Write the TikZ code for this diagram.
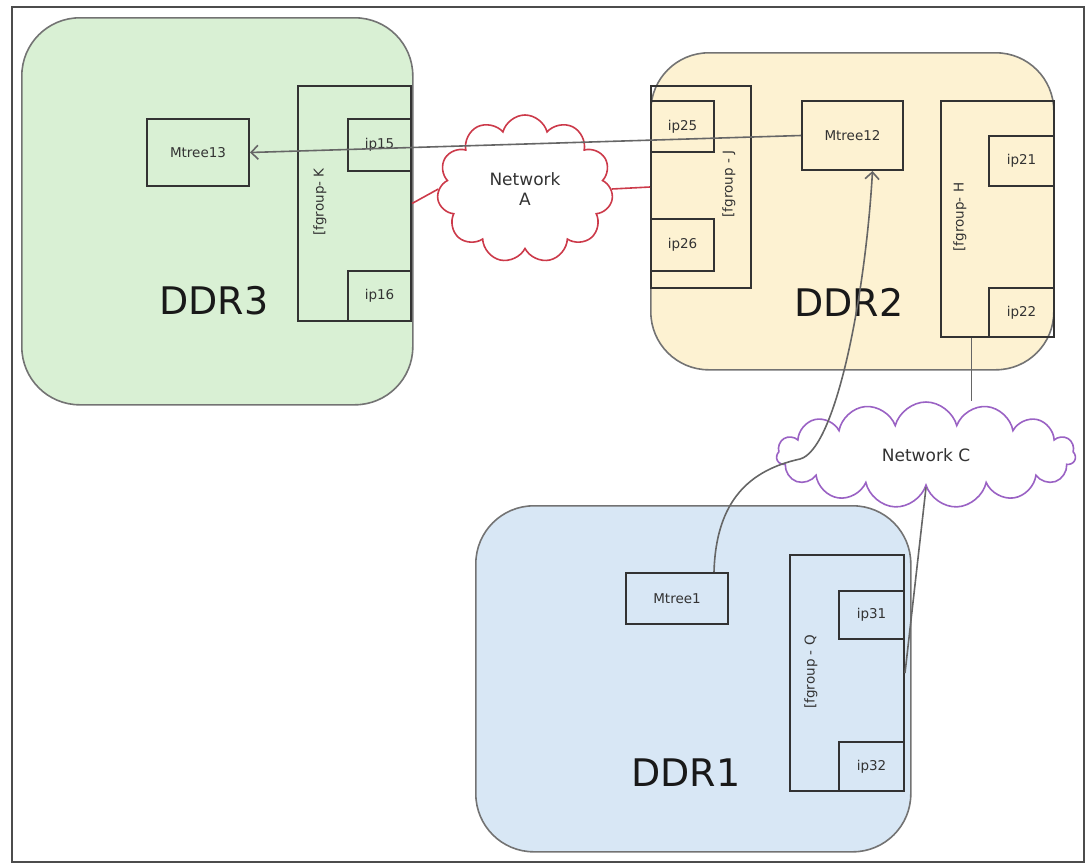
\documentclass[tikz,border=0pt]{standalone}
\usepackage{fontspec}
\setmainfont{DejaVu Sans}
\usetikzlibrary{shapes.symbols,arrows.meta}

\definecolor{ddrgreen}{HTML}{D9F0D4}
\definecolor{ddryellow}{HTML}{FDF2D2}
\definecolor{ddrblue}{HTML}{D8E7F5}
\definecolor{netred}{HTML}{CC3A4A}
\definecolor{netpurple}{HTML}{9A62C4}

\begin{document}
\begin{tikzpicture}[x=1pt,y=-1pt,
    ddr/.style={draw=black!55, line width=1.6pt, rounded corners=58pt, inner sep=0pt, anchor=north west},
    box/.style={draw=black!80, line width=2pt, inner sep=0pt, anchor=north west, text=black!80, font=\fontsize{13.5}{15}\selectfont},
    grplbl/.style={rotate=90, text=black!80, font=\fontsize{13.5}{15}\selectfont},
    big/.style={font=\fontsize{38}{42}\selectfont, text=black!90},
    net/.style={cloud, cloud puffs=#1, cloud ignores aspect, fill=white, line width=1.6pt, inner sep=0pt, align=center, text=black!80, font=\fontsize{17}{20}\selectfont},
    link/.style={draw=black!60, line width=1.6pt},
    >={Straight Barb[length=7pt,width=14pt]}]
    \useasboundingbox (0,0) rectangle (1091,863);
    \draw[black!70, line width=2pt] (12,7) rectangle (1084,862);

    % DDR3
    \node[ddr, fill=ddrgreen, minimum width=391pt, minimum height=387pt] (ddr3) at (21,17) {};
    \node[big] (ddr3lbl) at (214,301) {DDR3};
    \node[box, minimum width=113pt, minimum height=235pt] (grpK) at (297,85) {};
    \node[grplbl] (grpKlbl) at (320,202) {[fgroup- K};
    \node[box, minimum width=63pt, minimum height=52pt] (ip15) at (347,118) {ip15};
    \node[box, minimum width=63pt, minimum height=50pt] (ip16) at (347,270) {ip16};
    \node[box, minimum width=102pt, minimum height=67pt] (mtree13) at (146,118) {Mtree13};

    % DDR2
    \node[ddr, fill=ddryellow, minimum width=403pt, minimum height=317pt] (ddr2) at (650,52) {};
    \node[big] (ddr2lbl) at (849,302) {DDR2};
    \node[box, minimum width=100pt, minimum height=202pt] (grpJ) at (650,85) {};
    \node[grplbl] (grpJlbl) at (729,184) {[fgroup - J};
    \node[box, minimum width=63pt, minimum height=51pt] (ip25) at (650,100) {ip25};
    \node[box, minimum width=63pt, minimum height=52pt] (ip26) at (650,218) {ip26};
    \node[box, minimum width=101pt, minimum height=69pt] (mtree12) at (801,100) {Mtree12};
    \node[box, minimum width=113pt, minimum height=236pt] (grpH) at (940,100) {};
    \node[grplbl] (grpHlbl) at (960,217) {[fgroup- H};
    \node[box, minimum width=65pt, minimum height=50pt] (ip21) at (988,135) {ip21};
    \node[box, minimum width=65pt, minimum height=49pt] (ip22) at (988,287) {ip22};

    % DDR1
    \node[ddr, fill=ddrblue, minimum width=435pt, minimum height=346pt] (ddr1) at (475,505) {};
    \node[big] (ddr1lbl) at (686,773) {DDR1};
    \node[box, minimum width=102pt, minimum height=51pt] (mtree1) at (625,572) {Mtree1};
    \node[box, minimum width=114pt, minimum height=236pt] (grpQ) at (789,554) {};
    \node[grplbl] (grpQlbl) at (811,672) {[fgroup - Q};
    \node[box, minimum width=65pt, minimum height=48pt] (ip31) at (838,590) {ip31};
    \node[box, minimum width=65pt, minimum height=49pt] (ip32) at (838,741) {ip32};

    % networks
    \node[net=11, draw=netred, minimum width=176pt, minimum height=148pt] (netA) at (525,189) {Network\\A};
    \node[net=15, draw=netpurple, minimum width=299pt, minimum height=106pt] (netC) at (926,455) {Network C};

    \draw[netred, line width=1.6pt] (grpK.east) -- (netA.west);
    \draw[netred, line width=1.6pt] (netA.east) -- (grpJ.west);
    \draw[link] ([xshift=-26pt]grpH.south) -- ([xshift=-26pt]grpH.south |- netC.north);
    \draw[link] (netC.south) -- (grpQ.east);

    \coordinate (bend) at (800,459);
    \draw[link, ->] (mtree12.west) -- (mtree13.east);
    \draw[link, ->] ([xshift=37pt]mtree1.north) .. controls (716,500) and (750,470) .. (bend)
        .. controls (835,450) and (865,300) .. ([xshift=20pt]mtree12.south);
\end{tikzpicture}
\end{document}
